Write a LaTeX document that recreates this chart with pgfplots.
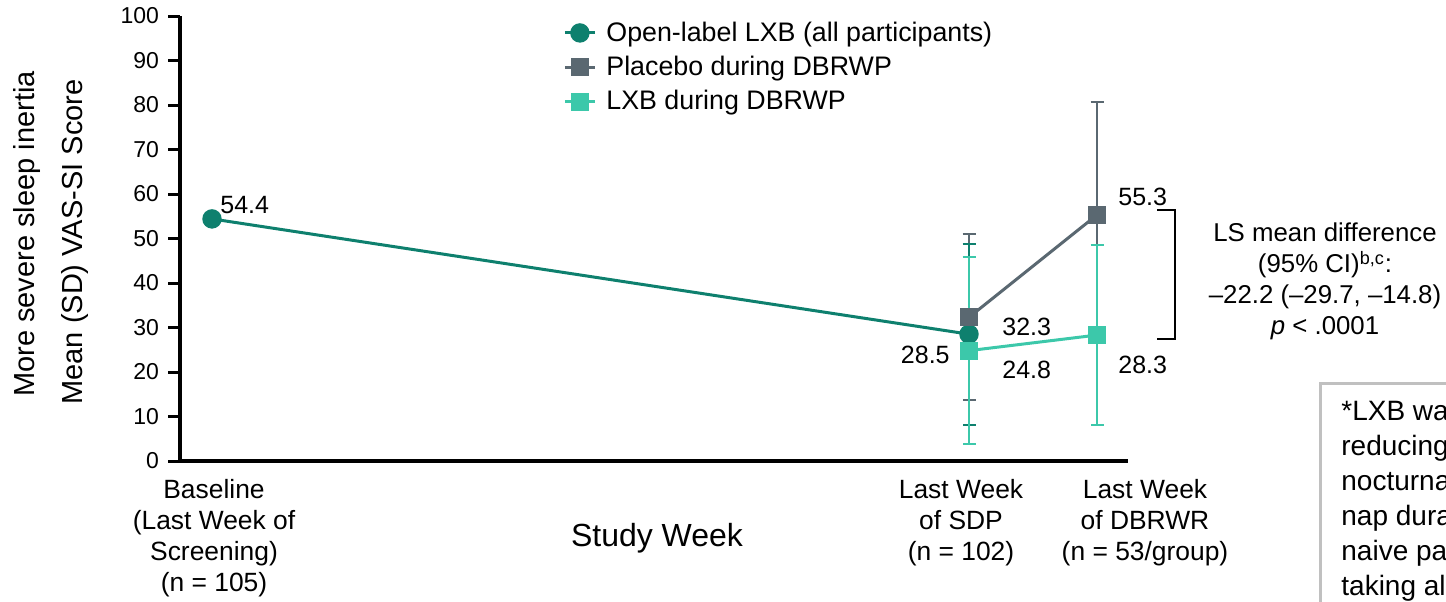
\documentclass[border=0pt]{standalone}
\usepackage{fontspec}
\setmainfont{Liberation Sans}
\usepackage{pgfplots}
\pgfplotsset{compat=1.18}
\definecolor{cOL}{RGB}{14,128,110}
\definecolor{cPL}{RGB}{90,104,113}
\definecolor{cLX}{RGB}{60,200,170}
\definecolor{boxgray}{RGB}{192,192,192}
\begin{document}
\begin{tikzpicture}
\useasboundingbox (0,0) rectangle (723pt,300.5pt);
\begin{axis}[
  at={(90pt,70pt)}, anchor=south west,
  scale only axis, width=474pt, height=222.5pt,
  xmin=0, xmax=948, ymin=0, ymax=100,
  clip=false,
  axis lines=left,
  axis line style={line width=1.6pt, -},
  xtick=\empty,
  ytick={0,10,...,100},
  tick style={line width=1.5pt, black},
  major tick length=6pt, tick align=outside,
  /pgf/number format/assume math mode=true,
  yticklabel style={font=\fontsize{11.5}{13}\selectfont, xshift=-1pt},
  legend style={at={(axis cs:383,99.7)}, anchor=north west, draw=none, fill=none,
    font=\fontsize{13.4}{15.2}\selectfont, row sep=2pt, inner sep=0pt,
    /tikz/every odd column/.append style={column sep=3pt}},
  legend cell align=left,
  legend image code/.code={\draw[mark repeat=2,mark phase=2] plot coordinates {(0pt,0pt)(7.5pt,0pt)(15pt,0pt)};},
]
% error bars
\addplot[forget plot, only marks, mark=none, cPL,
  error bars/.cd, y dir=both, y explicit,
  error bar style={draw=cPL, line width=1pt},
  error mark options={rotate=90, mark size=3.25pt, line width=1pt, draw=cPL}]
  coordinates {(789,32.3) +- (0,18.6) (917,55.3) +- (0,25.3)};
\addplot[forget plot, only marks, mark=none, cOL,
  error bars/.cd, y dir=both, y explicit,
  error bar style={draw=cOL, line width=1pt},
  error mark options={rotate=90, mark size=3.25pt, line width=1pt, draw=cOL}]
  coordinates {(789,28.5) +- (0,20.3)};
\addplot[forget plot, only marks, mark=none, cLX,
  error bars/.cd, y dir=both, y explicit,
  error bar style={draw=cLX, line width=1pt},
  error mark options={rotate=90, mark size=3.25pt, line width=1pt, draw=cLX}]
  coordinates {(789,24.8) +- (0,21.0) (917,28.3) +- (0,20.2)};
% lines
\addplot[cOL, line width=1.5pt, mark=*, mark size=4.1pt, mark options={fill=cOL, draw=cOL}]
  coordinates {(32,54.4) (789,28.5)};
\addlegendentry{Open-label LXB (all participants)}
\addplot[cPL, line width=1.5pt, mark=square*, mark size=3.8pt, mark options={fill=cPL, draw=cPL}]
  coordinates {(789,32.3) (917,55.3)};
\addlegendentry{Placebo during DBRWP}
\addplot[cLX, line width=1.5pt, mark=square*, mark size=3.8pt, mark options={fill=cLX, draw=cLX}]
  coordinates {(789,24.8) (917,28.3)};
\addlegendentry{LXB during DBRWP}
% data labels
\begin{scope}[every node/.style={inner sep=0pt, font=\fontsize{12.5}{14}\selectfont}]
\node[anchor=west] at (axis cs:40,57.5) {54.4};
\node[anchor=east] at (axis cs:770,23.8) {28.5};
\node[anchor=west] at (axis cs:822,30.1) {32.3};
\node[anchor=west] at (axis cs:822,20.4) {24.8};
\node[anchor=west] at (axis cs:938,59.3) {55.3};
\node[anchor=west] at (axis cs:938,21.6) {28.3};
\end{scope}
\draw[line width=0.8pt] (axis cs:977,56.4) -- (axis cs:995,56.4) -- (axis cs:995,27.4) -- (axis cs:977,27.4);
\node[align=center, inner sep=0pt, font=\fontsize{12.9}{15.5}\selectfont] at (axis cs:1145,40.3)
  {LS mean difference\\(95\% CI)\textsuperscript{b,c}:\\–22.2 (–29.7, –14.8)\\\textit{p} < .0001};
\end{axis}
\begin{scope}[x=0.5pt, y=-0.5pt, yshift=300.5pt]
\node[rotate=90, font=\fontsize{14.5}{16}\selectfont] at (27,234) {More severe sleep inertia};
\node[rotate=90, font=\fontsize{14.5}{16}\selectfont] at (75,242) {Mean (SD) VAS-SI Score};
\node[font=\fontsize{16}{18}\selectfont] at (657,538) {Study Week};
\node[align=center, inner sep=0pt, font=\fontsize{13.2}{15.5}\selectfont] at (214,538.5)
  {Baseline\\(Last Week of\\Screening)\\(n = 105)};
\node[align=center, inner sep=0pt, font=\fontsize{13.2}{15.5}\selectfont] at (961,523)
  {Last Week\\of SDP\\(n = 102)};
\node[align=center, inner sep=0pt, font=\fontsize{13.2}{15.5}\selectfont] at (1145,523)
  {Last Week\\of DBRWR\\(n = 53/group)};
\begin{scope}
\clip (0,0) rectangle (1446,601);
\draw[boxgray, line width=1.5pt] (1320,383) rectangle (1600,700);
\node[anchor=north west, align=left, inner sep=0pt, font=\fontsize{14}{17.5}\selectfont] at (1341,400)
  {*LXB was effective in\\reducing sleep inertia,\\nocturnal sleep and\\nap duration in both\\naive participants and\\taking alerting agents};
\end{scope}
\end{scope}
\end{tikzpicture}
\end{document}
